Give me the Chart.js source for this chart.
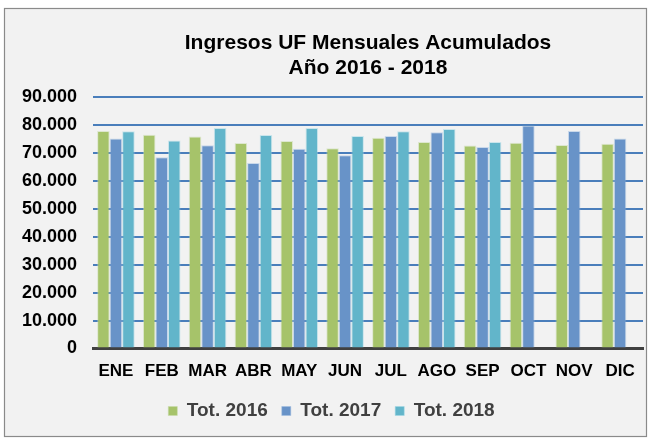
<!DOCTYPE html>
<html>
<head>
<meta charset="utf-8">
<script src="https://cdn.jsdelivr.net/npm/chart.js@4/dist/chart.umd.min.js"></script>
<style>
  html, body { margin: 0; padding: 0; background: #ffffff; }
  #wrap { width: 651px; height: 439px; }
</style>
</head>
<body>
<div id="wrap"><canvas id="c" width="651" height="439"></canvas></div>
<script>
const categories = ['ENE', 'FEB', 'MAR', 'ABR', 'MAY', 'JUN', 'JUL', 'AGO', 'SEP', 'OCT', 'NOV', 'DIC'];
const tot2016 = [77800, 76500, 75900, 73500, 74250, 71650, 75450, 73900, 72600, 73650, 72800, 73300];
const tot2017 = [75100, 68450, 72700, 66400, 71500, 69150, 76000, 77350, 72100, 79800, 77800, 75100];
const tot2018 = [77700, 74400, 78900, 76400, 78900, 76000, 77700, 78500, 73900, null, null, null];
const seriesNames = ['Tot. 2016', 'Tot. 2017', 'Tot. 2018'];
const yTickValues = [0, 10000, 20000, 30000, 40000, 50000, 60000, 70000, 80000, 90000];
const titleLines = ['Ingresos UF Mensuales Acumulados', 'Año 2016 - 2018'];

const fmt = v => v === 0 ? '0' : String(v).replace(/\B(?=(\d{3})+(?!\d))/g, '.');

const frame = {
  id: 'frame',
  beforeDraw(chart) {
    const ctx = chart.ctx;
    ctx.save();
    ctx.fillStyle = '#ffffff';
    ctx.fillRect(0, 0, chart.width, chart.height);
    ctx.fillStyle = '#f2f2f2';
    ctx.fillRect(4.5, 8.5, 642, 428);
    ctx.strokeStyle = '#8a8a8a';
    ctx.lineWidth = 1.2;
    ctx.strokeRect(4.5, 8.5, 642, 428);
    ctx.restore();
  }
};

const FONT = "'Liberation Sans', Arial, sans-serif";
const PAD_LEFT = 20;
new Chart(document.getElementById('c'), {
  type: 'bar',
  data: {
    labels: categories,
    datasets: [
      { label: seriesNames[0], data: tot2016, backgroundColor: '#a6c36a', borderColor: 'rgba(200,220,170,0.5)', borderWidth: 1 },
      { label: seriesNames[1], data: tot2017, backgroundColor: '#6893c8', borderColor: 'rgba(160,190,225,0.5)', borderWidth: 1 },
      { label: seriesNames[2], data: tot2018, backgroundColor: '#62b5ca', borderColor: 'rgba(160,215,230,0.5)', borderWidth: 1 }
    ]
  },
  options: {
    responsive: false,
    animation: false,
    layout: { padding: { left: PAD_LEFT, right: 8, top: 0, bottom: 8.5 } },
    datasets: { bar: { categoryPercentage: 0.82, barPercentage: 1.0 } },
    scales: {
      x: {
        grid: { display: false, drawTicks: false },
        border: { display: true, color: '#404040', width: 3 },
        ticks: { color: '#000000', padding: 13, font: { family: FONT, size: 17, weight: 'bold' } },
        afterFit(scale) { scale.height = 39; }
      },
      y: {
        min: 0, max: 90000,
        afterBuildTicks(scale) { scale.ticks = yTickValues.map(v => ({ value: v })); },
        grid: {
          drawTicks: false,
          lineWidth: 2,
          color: ctx => (ctx.tick && ctx.tick.value === 0) ? 'rgba(0,0,0,0)' : '#4a7ebb'
        },
        border: { display: false },
        ticks: {
          color: '#000000', padding: 16,
          font: { family: FONT, size: 18, weight: 'bold' },
          callback: v => fmt(v)
        },
        afterFit(scale) { scale.width = 93 - PAD_LEFT; }
      }
    },
    plugins: {
      title: {
        display: true,
        text: titleLines,
        fullSize: false,
        color: '#000000',
        font: { family: FONT, size: 21, weight: 'bold', lineHeight: 1.19 },
        padding: { top: 31, bottom: 16 }
      },
      legend: {
        position: 'bottom',
        labels: {
          color: '#404040',
          boxWidth: 9, boxHeight: 9,
          padding: 14,
          font: { family: FONT, size: 19, weight: 'bold' }
        }
      },
      tooltip: { enabled: false }
    }
  },
  plugins: [frame]
});
</script>
</body>
</html>
